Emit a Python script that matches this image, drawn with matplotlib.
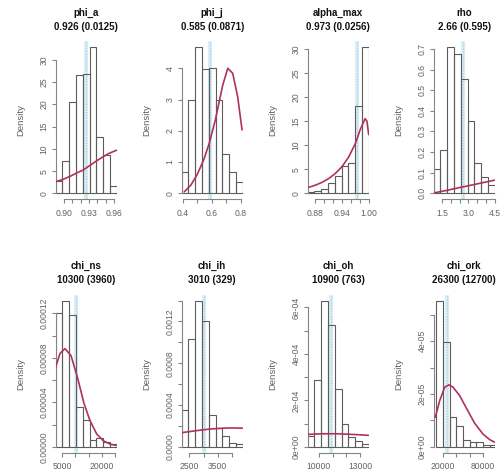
import matplotlib
matplotlib.use("Agg")
import matplotlib.pyplot as plt
import numpy as np

plt.rcParams['font.family'] = ['Liberation Sans', 'DejaVu Sans']

# ---- posterior summaries -------------------------------------------------
names = ["phi_a", "phi_j", "alpha_max", "rho",
         "chi_ns", "chi_ih", "chi_oh", "chi_ork"]
summaries = ["0.926 (0.0125)", "0.585 (0.0871)", "0.973 (0.0256)", "2.66 (0.595)",
             "10300 (3960)", "3010 (329)", "10900 (763)", "26300 (12700)"]
post_means = [0.926, 0.585, 0.973, 2.66, 10300, 3010, 10900, 26300]

# ---- histogram bins / densities and prior curves -------------------------
phi_a_edges = [0.8900, 0.8981, 0.9063, 0.9144, 0.9226, 0.9307, 0.9388, 0.9470, 0.9551, 0.9632]
phi_a_density = [2.7, 7.35, 20.55, 26.7, 26.9, 32.85, 12.75, 8.55, 1.65]
phi_a_prior_x = [0.890, 0.899, 0.908, 0.916, 0.923, 0.930, 0.939, 0.947, 0.954, 0.963]
phi_a_prior_y = [2.63, 3.15, 3.9, 4.65, 5.25, 6.15, 7.3, 8.25, 9.0, 9.7]

phi_j_edges = [0.3931, 0.4396, 0.4861, 0.5326, 0.5791, 0.6256, 0.6720, 0.7185, 0.7650, 0.8115]
phi_j_density = [0.69, 3.0, 4.67, 3.98, 4.0, 2.99, 1.26, 0.68, 0.35]
phi_j_prior_x = [0.411, 0.457, 0.498, 0.544, 0.582, 0.624, 0.674, 0.709, 0.743, 0.777, 0.807]
phi_j_prior_y = [0.05, 0.27, 0.59, 1.07, 1.6, 2.35, 3.45, 4.0, 3.84, 3.09, 2.03]

alpha_max_edges = [0.8637, 0.8788, 0.8940, 0.9091, 0.9243, 0.9394, 0.9546, 0.9697, 0.9849, 1.0000]
alpha_max_density = [0.2, 0.45, 0.9, 2.1, 3.6, 5.7, 6.2, 18.2, 30.3]
alpha_max_prior_x = [0.866, 0.881, 0.896, 0.911, 0.925, 0.940, 0.955, 0.970, 0.981, 0.992, 0.996, 1.0]
alpha_max_prior_y = [1.25, 1.7, 2.3, 3.1, 4.1, 5.5, 7.5, 10.3, 13.2, 15.5, 15.0, 12.2]

rho_edges = [1.008, 1.396, 1.784, 2.172, 2.560, 2.948, 3.336, 3.724, 4.112, 4.500]
rho_density = [0.119, 0.208, 0.708, 0.674, 0.554, 0.350, 0.147, 0.077, 0.041]
rho_prior_x = [1.01, 1.5, 2.0, 2.5, 3.0, 3.5, 4.0, 4.5]
rho_prior_y = [0.002, 0.010, 0.019, 0.028, 0.037, 0.046, 0.055, 0.064]

chi_ns_edges = [2488, 5068, 7648, 10228, 12808, 15388, 17968, 20548, 23128, 25708]
chi_ns_density = [12.0e-5, 13.14e-5, 11.9e-5, 3.56e-5, 2.41e-5, 0.6e-5, 0.75e-5, 0.42e-5, 0.27e-5]
chi_ns_prior_x = [2488, 4125, 6028, 8312, 10710, 13260, 15545, 18095, 20607, 23158, 25442]
chi_ns_prior_y = [7.18e-5, 8.4e-5, 8.83e-5, 8.2e-5, 6.3e-5, 3.9e-5, 2.35e-5, 1.15e-5, 0.54e-5, 0.24e-5, 0.12e-5]

chi_ih_edges = [2232, 2471, 2709, 2948, 3187, 3426, 3664, 3903, 4142, 4380]
chi_ih_density = [3.5e-4, 10.35e-4, 13.98e-4, 12.0e-4, 3.06e-4, 1.8e-4, 1.0e-4, 0.38e-4, 0.22e-4]
chi_ih_prior_x = [2232, 2771, 3239, 3697, 4028, 4380]
chi_ih_prior_y = [1.35e-4, 1.55e-4, 1.7e-4, 1.78e-4, 1.8e-4, 1.78e-4]

chi_oh_edges = [9207, 9696, 10185, 10673, 11162, 11651, 12140, 12629, 13117, 13606]
chi_oh_density = [0.46e-4, 2.87e-4, 6.29e-4, 5.26e-4, 2.49e-4, 0.96e-4, 0.42e-4, 0.23e-4, 0.1e-4]
chi_oh_prior_x = [9207, 10185, 11162, 12140, 13117, 13606]
chi_oh_prior_y = [0.53e-4, 0.56e-4, 0.56e-4, 0.54e-4, 0.51e-4, 0.49e-4]

chi_ork_edges = [10000, 20000, 30000, 40000, 50000, 60000, 70000, 80000, 90000, 100000]
chi_ork_density = [5.54e-5, 3.97e-5, 1.12e-5, 0.77e-5, 0.25e-5, 0.17e-5, 0.17e-5, 0.08e-5, 0.07e-5]
chi_ork_prior_x = [8450, 15050, 22550, 29000, 35000, 45050, 54950, 67550, 80000, 90050, 97550]
chi_ork_prior_y = [1.12e-5, 1.75e-5, 2.26e-5, 2.35e-5, 2.26e-5, 1.94e-5, 1.47e-5, 0.89e-5, 0.48e-5, 0.27e-5, 0.17e-5]

# ---- axis ranges and tick labels -----------------------------------------
x_ranges = [(0.8900, 0.9632), (0.3931, 0.8115), (0.8637, 1.0), (1.008, 4.5),
            (2488, 25708), (2232, 4380), (9207, 13606), (6050, 97550)]

phi_a_xticks = [0.90, 0.91, 0.92, 0.93, 0.94, 0.95, 0.96]
phi_a_xlabels = ["0.90", "", "", "0.93", "", "", "0.96"]
phi_j_xticks = [0.4, 0.5, 0.6, 0.7, 0.8]
phi_j_xlabels = ["0.4", "", "0.6", "", "0.8"]
alpha_max_xticks = [0.88, 0.90, 0.92, 0.94, 0.96, 0.98, 1.00]
alpha_max_xlabels = ["0.88", "", "", "0.94", "", "", "1.00"]
rho_xticks = [1.5, 2.0, 2.5, 3.0, 3.5, 4.0, 4.5]
rho_xlabels = ["1.5", "", "", "3.0", "", "", "4.5"]
chi_ns_xticks = [5000, 10000, 15000, 20000, 25000]
chi_ns_xlabels = ["5000", "", "", "20000", ""]
chi_ih_xticks = [2500, 3000, 3500, 4000]
chi_ih_xlabels = ["2500", "", "3500", ""]
chi_oh_xticks = [10000, 11000, 12000, 13000]
chi_oh_xlabels = ["10000", "", "", "13000"]
chi_ork_xticks = [20000, 40000, 60000, 80000]
chi_ork_xlabels = ["20000", "", "", "80000"]

phi_a_yticks = [0, 5, 10, 15, 20, 25, 30]
phi_a_ylabels = ["0", "5", "10", "15", "20", "25", "30"]
phi_j_yticks = [0, 1, 2, 3, 4]
phi_j_ylabels = ["0", "1", "2", "3", "4"]
alpha_max_yticks = [0, 5, 10, 15, 20, 25, 30]
alpha_max_ylabels = ["0", "5", "10", "15", "20", "25", "30"]
rho_yticks = [0.0, 0.1, 0.2, 0.3, 0.4, 0.5, 0.6, 0.7]
rho_ylabels = ["0.0", "0.1", "0.2", "0.3", "0.4", "0.5", "0.6", "0.7"]
chi_ns_yticks = [0, 2e-5, 4e-5, 6e-5, 8e-5, 10e-5, 12e-5]
chi_ns_ylabels = ["0.00000", "", "0.00004", "", "0.00008", "", "0.00012"]
chi_ih_yticks = [0, 2e-4, 4e-4, 6e-4, 8e-4, 10e-4, 12e-4, 14e-4]
chi_ih_ylabels = ["0.0000", "", "0.0004", "", "0.0008", "", "0.0012", ""]
chi_oh_yticks = [0, 1e-4, 2e-4, 3e-4, 4e-4, 5e-4, 6e-4]
chi_oh_ylabels = ["0e+00", "", "2e-04", "", "4e-04", "", "6e-04"]
chi_ork_yticks = [0, 1e-5, 2e-5, 3e-5, 4e-5, 5e-5]
chi_ork_ylabels = ["0e+00", "", "2e-05", "", "4e-05", ""]

panels = [
    (phi_a_edges, phi_a_density, phi_a_prior_x, phi_a_prior_y,
     phi_a_xticks, phi_a_xlabels, phi_a_yticks, phi_a_ylabels),
    (phi_j_edges, phi_j_density, phi_j_prior_x, phi_j_prior_y,
     phi_j_xticks, phi_j_xlabels, phi_j_yticks, phi_j_ylabels),
    (alpha_max_edges, alpha_max_density, alpha_max_prior_x, alpha_max_prior_y,
     alpha_max_xticks, alpha_max_xlabels, alpha_max_yticks, alpha_max_ylabels),
    (rho_edges, rho_density, rho_prior_x, rho_prior_y,
     rho_xticks, rho_xlabels, rho_yticks, rho_ylabels),
    (chi_ns_edges, chi_ns_density, chi_ns_prior_x, chi_ns_prior_y,
     chi_ns_xticks, chi_ns_xlabels, chi_ns_yticks, chi_ns_ylabels),
    (chi_ih_edges, chi_ih_density, chi_ih_prior_x, chi_ih_prior_y,
     chi_ih_xticks, chi_ih_xlabels, chi_ih_yticks, chi_ih_ylabels),
    (chi_oh_edges, chi_oh_density, chi_oh_prior_x, chi_oh_prior_y,
     chi_oh_xticks, chi_oh_xlabels, chi_oh_yticks, chi_oh_ylabels),
    (chi_ork_edges, chi_ork_density, chi_ork_prior_x, chi_ork_prior_y,
     chi_ork_xticks, chi_ork_xlabels, chi_ork_yticks, chi_ork_ylabels),
]

# ---- figure layout (pixel based, 2 x 4 grid) -----------------------------
W, H = 504, 472
DPI = 100
fig = plt.figure(figsize=(W / DPI, H / DPI), dpi=DPI)
fig.patch.set_facecolor("white")

cell_w = 126
row_step = 253.4
plot_left = 55.7
plot_w = 61.0
plot_top = 41.5
plot_bottom = 199.2

axis_col = "#858585"
text_col = "#626262"
bar_col = "#5c5c5c"
prior_col = "#B03060"
band_col = "#DCEEF6"
mean_col = "#A9D4E8"

for i, (edges, dens, px, py, xt, xl, yt, yl) in enumerate(panels):
    r, c = divmod(i, 4)
    left = c * cell_w + plot_left
    top = plot_top + r * row_step
    bottom = plot_bottom + r * row_step
    ax = fig.add_axes([left / W, 1 - bottom / H, plot_w / W, (bottom - top) / H])

    edges = np.asarray(edges, dtype=float)
    ymax = max(dens)
    ax.set_xlim(*x_ranges[i])
    ax.set_ylim(-0.04 * ymax, 1.04 * ymax)

    # posterior mean marker: pale band with a dotted core
    ax.axvline(post_means[i], color=band_col, linewidth=3.0, zorder=1)
    ax.axvline(post_means[i], color=mean_col, linewidth=1.0,
               linestyle=(0, (1.0, 1.0)), zorder=1)
    ax.bar(edges[:-1], dens, width=np.diff(edges), align="edge",
           fill=False, edgecolor=bar_col, linewidth=0.8, zorder=2)
    ax.plot(px, py, color=prior_col, linewidth=1.2, zorder=3,
            solid_capstyle="round")

    for s in ("top", "right"):
        ax.spines[s].set_visible(False)
    for s in ("left", "bottom"):
        ax.spines[s].set_color(axis_col)
        ax.spines[s].set_linewidth(0.8)
    ax.spines["left"].set_bounds(yt[0], yt[-1])
    ax.spines["bottom"].set_bounds(xt[0], xt[-1])

    ax.set_xticks(xt)
    ax.set_xticklabels(xl)
    ax.set_yticks(yt)
    ax.set_yticklabels(yl, rotation=90, va="center")
    ax.tick_params(axis="both", direction="out", length=3.0, width=0.8,
                   color=axis_col, labelcolor=text_col, labelsize=6.2)
    ax.tick_params(axis="x", pad=4.0)
    ax.tick_params(axis="y", pad=2.0)
    ax.set_facecolor("none")

    ax.text(-0.574, 0.5, "Density", rotation=90, ha="center", va="center",
            transform=ax.transAxes, fontsize=6.8, color=text_col)

    cx = (left + plot_w / 2) / W
    fig.text(cx, 1 - (12.7 + r * row_step) / H, names[i], ha="center",
             va="center", fontsize=7, fontweight="bold", color="#111111")
    fig.text(cx, 1 - (27.0 + r * row_step) / H, summaries[i], ha="center",
             va="center", fontsize=7, fontweight="bold", color="#111111")

fig.savefig("out.png", dpi=DPI, facecolor="white")
